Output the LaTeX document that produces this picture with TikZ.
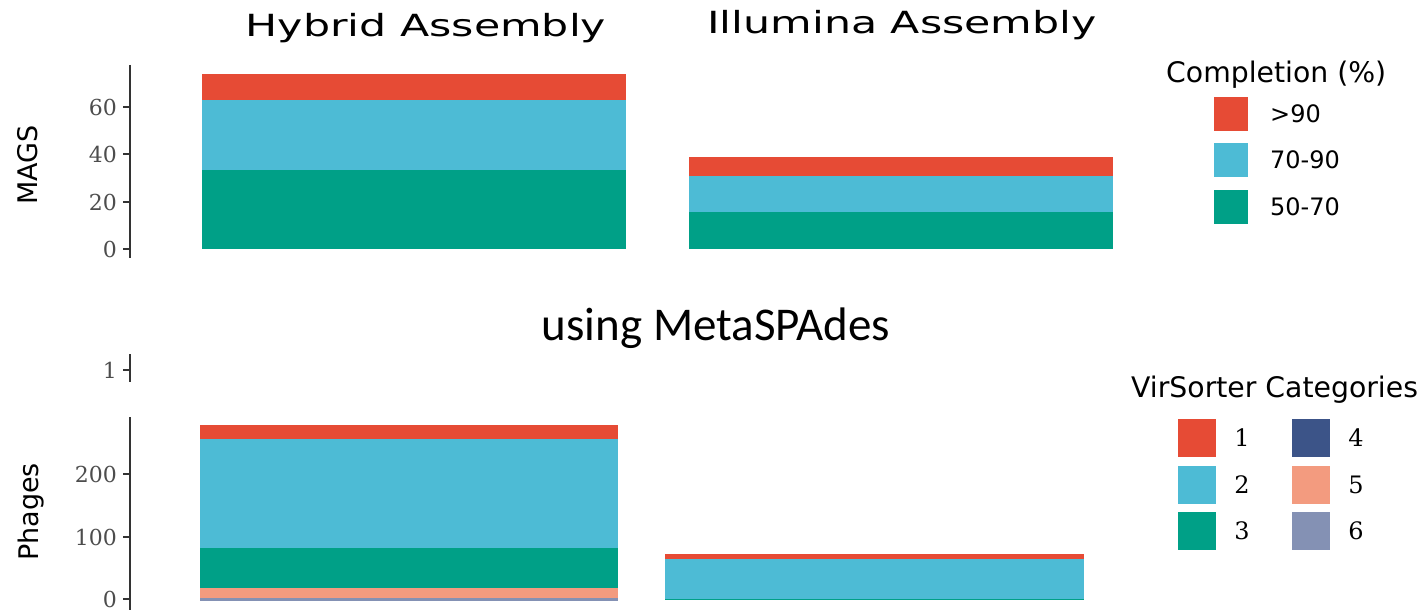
\documentclass[tikz,border=0pt]{standalone}
\usepackage{graphicx}
\usepackage{fontspec}
\setmainfont{DejaVu Sans}
\newfontfamily\serf{DejaVu Serif}
\newfontfamily\carl{Carlito}
\definecolor{npgred}{HTML}{E64B35}
\definecolor{npgcyan}{HTML}{4DBBD5}
\definecolor{npgteal}{HTML}{00A087}
\definecolor{npgnavy}{HTML}{3C5488}
\definecolor{npgsalmon}{HTML}{F39B7F}
\definecolor{npgblue}{HTML}{8491B4}
\definecolor{axisgray}{HTML}{333333}
\definecolor{tickgray}{HTML}{4D4D4D}
\begin{document}
\begin{tikzpicture}[x=1pt,y=-1pt,
  axisline/.style={draw=axisgray, line width=1.8pt},
  ticklab/.style={anchor=east, text=tickgray, inner sep=0pt, font=\serf\fontsize{22}{26}\selectfont},
  ptitle/.style={anchor=base, inner sep=0pt, font=\fontsize{30.5}{36}\selectfont},
  ylab/.style={rotate=90, inner sep=0pt, font=\fontsize{27}{32}\selectfont},
  legtitle/.style={anchor=base west, inner sep=0pt, font=\fontsize{28.3}{34}\selectfont},
  leglab/.style={anchor=west, inner sep=0pt, font=\fontsize{24}{28}\selectfont},
  legnum/.style={inner sep=0pt, font=\serf\fontsize{24}{28}\selectfont}
]
\useasboundingbox[fill=white] (0,0) rectangle (1425,610);

% ---------- titles ----------
\node[ptitle] (th) at (426,36.5) {\scalebox{1.40}[1]{Hybrid Assembly}};
\node[ptitle] (ti) at (902,33.5) {\scalebox{1.40}[1]{Illumina Assembly}};
\node[anchor=base, inner sep=0pt, font=\carl\fontsize{47}{56}\selectfont] (tm) at (716,340) {using MetaSPAdes};

% ---------- top panel (MAGS) ----------
\node[ylab] (ymags) at (28,165) {MAGS};
\draw[axisline] (130,65) -- (130,258);
\foreach \yy/\lab in {249/0,202/20,154/40,107/60}{
  \draw[axisline] (123,\yy) -- (130,\yy);
  \node[ticklab] at (117,\yy) {\lab};
}
% Hybrid
\fill[npgteal] (202,170) rectangle (626,249);
\fill[npgcyan] (202,100) rectangle (626,170);
\fill[npgred]  (202,74)  rectangle (626,100);
% Illumina
\fill[npgteal] (689,212) rectangle (1113,249);
\fill[npgcyan] (689,176) rectangle (1113,212);
\fill[npgred]  (689,157) rectangle (1113,176);

% ---------- bottom panel (Phages) ----------
\node[ylab] (yph) at (31,512) {Phages};
\draw[axisline] (130,354) -- (130,382);
\draw[axisline] (123,370) -- (130,370);
\node[ticklab] at (117,370) {1};
\draw[axisline] (130,417) -- (130,610);
\foreach \yy/\lab in {599/0,537/100,474/200}{
  \draw[axisline] (123,\yy) -- (130,\yy);
  \node[ticklab] at (117,\yy) {\lab};
}
% Hybrid
\fill[npgblue]   (200,598) rectangle (618,600.5);
\fill[npgsalmon] (200,588) rectangle (618,598);
\fill[npgteal]   (200,548) rectangle (618,588);
\fill[npgcyan]   (200,439) rectangle (618,548);
\fill[npgred]    (200,425) rectangle (618,439);
% Illumina
\fill[npgteal]   (665,598.5) rectangle (1084,600);
\fill[npgcyan]   (665,559) rectangle (1084,598.5);
\fill[npgred]    (665,554) rectangle (1084,559);

% ---------- legend: Completion ----------
\node[legtitle] (lt1) at (1166,83) {Completion (\%)};
\foreach \yy/\col/\lab in {114/npgred/{>90},160/npgcyan/{70-90},207/npgteal/{50-70}}{
  \fill[\col] (1214,\yy-17) rectangle (1248,\yy+17);
  \node[leglab] at (1270,\yy) {\lab};
}

% ---------- legend: VirSorter ----------
\node[legtitle] (lt2) at (1131,397) {VirSorter Categories};
\foreach \yy/\col/\lab in {438/npgred/1,485/npgcyan/2,531/npgteal/3}{
  \fill[\col] (1178,\yy-19) rectangle (1216,\yy+19);
  \node[legnum] at (1242,\yy) {\lab};
}
\foreach \yy/\col/\lab in {438/npgnavy/4,485/npgsalmon/5,531/npgblue/6}{
  \fill[\col] (1292,\yy-19) rectangle (1330,\yy+19);
  \node[legnum] at (1356,\yy) {\lab};
}
\end{tikzpicture}
\end{document}
